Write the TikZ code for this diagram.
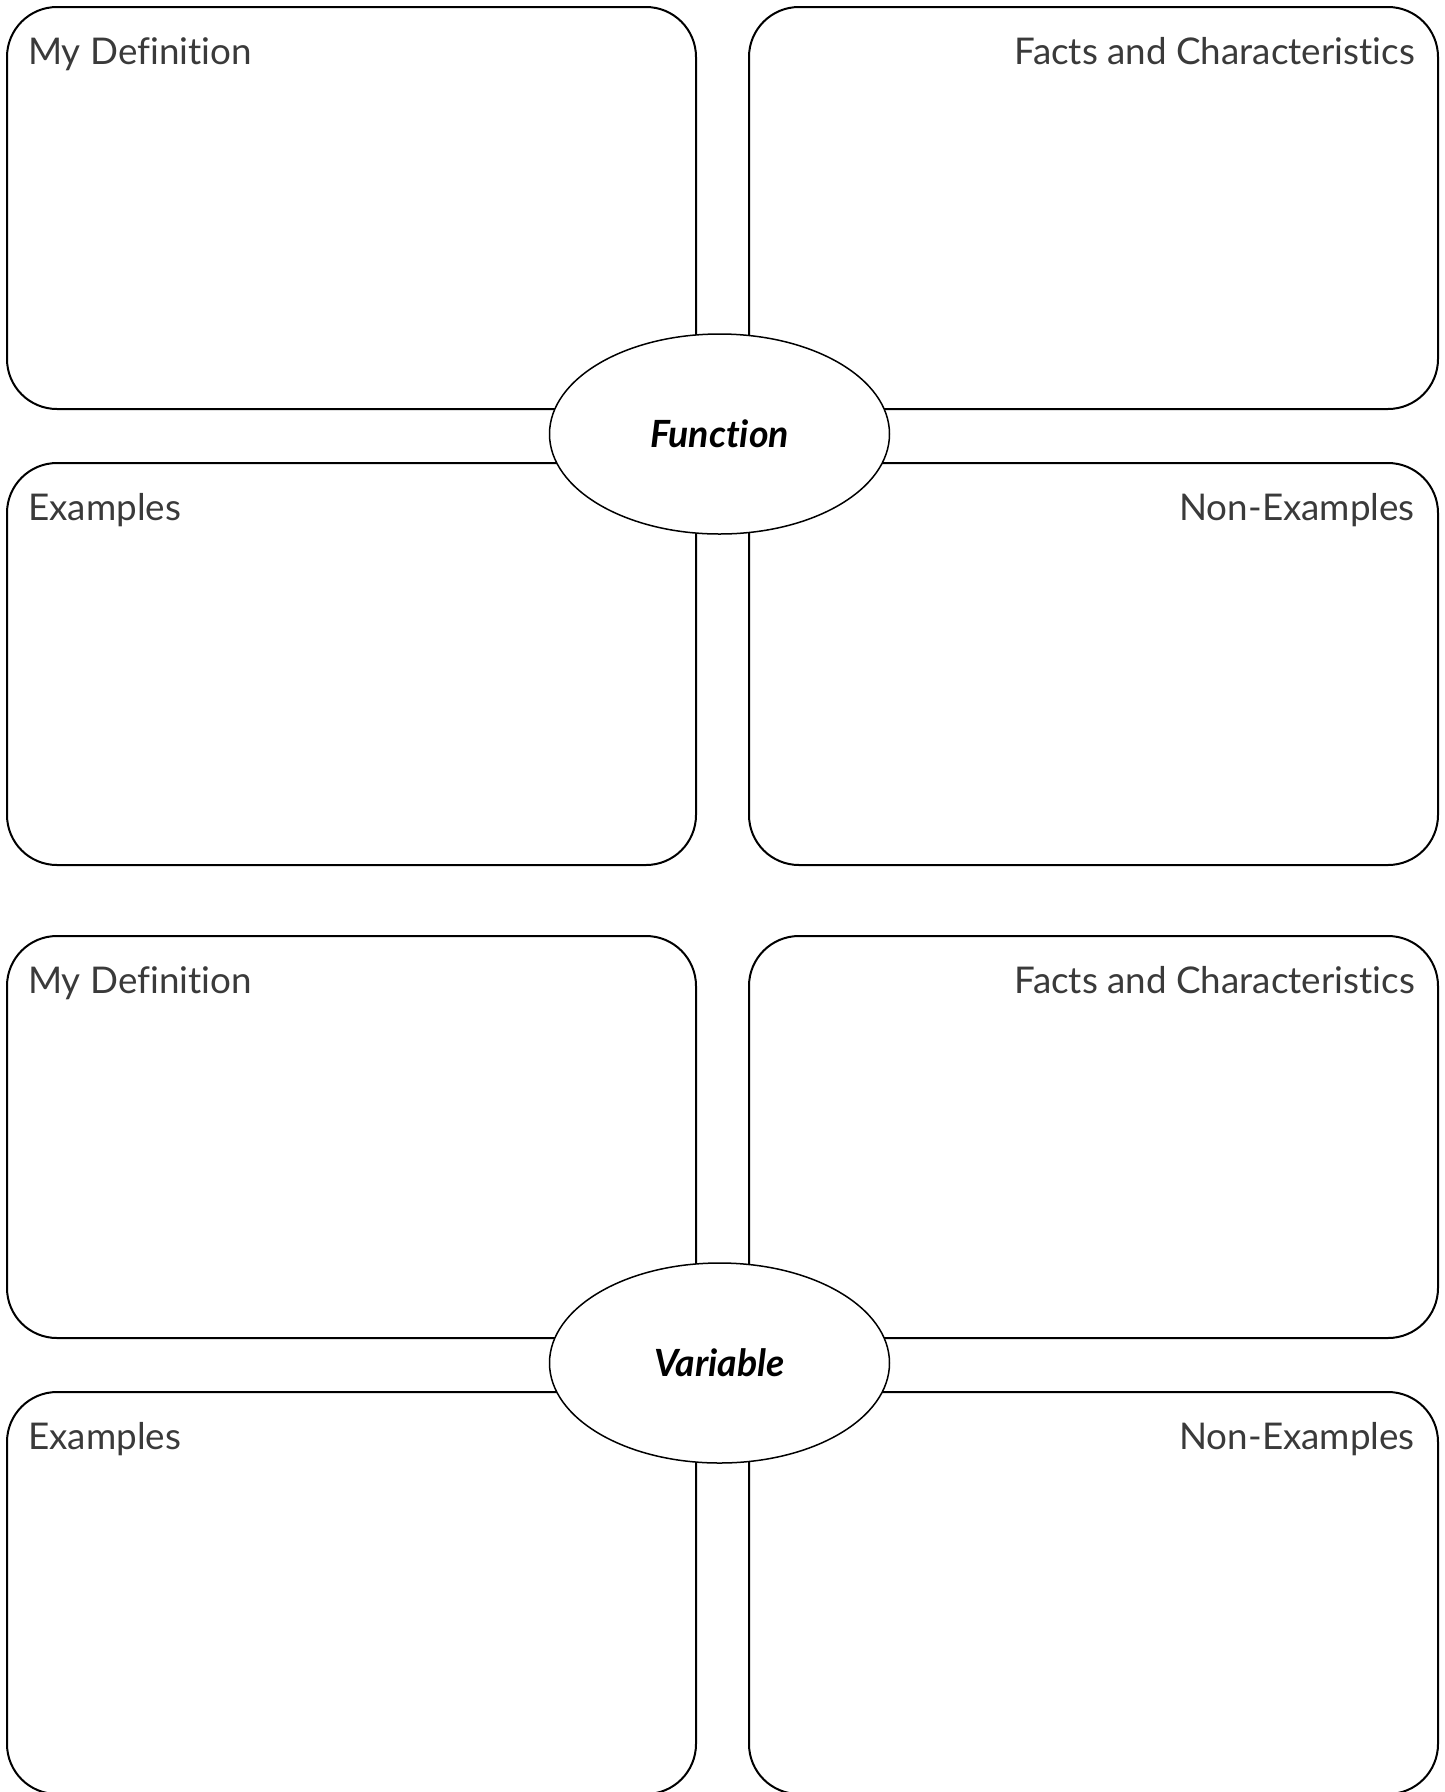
\documentclass[tikz,border=0pt]{standalone}
\usepackage{fontspec}
\setmainfont{Lato}[Ligatures=NoCommon]
\usetikzlibrary{positioning,shapes.geometric}
\definecolor{labelgray}{RGB}{58,58,58}
\tikzset{
  panel/.style={draw, line width=2pt, rounded corners=50pt, minimum width=689pt,
    minimum height=402pt, inner sep=0pt},
  heading/.style={text=labelgray, font=\fontsize{36.8pt}{44pt}\selectfont, inner sep=0pt},
  word/.style={ellipse, draw, fill=white, line width=1.5pt, minimum width=340pt,
    minimum height=200pt, inner sep=0pt, font=\fontsize{37.5pt}{44pt}\selectfont\bfseries\itshape}
}
\begin{document}
\begin{tikzpicture}[x=1pt,y=-1pt]
      \useasboundingbox (0,0) rectangle (1444,1792);
      % first word
      \draw
        (351.5,208) node[panel] (fdef){}
        (1093.5,208) node[panel] (ffact){}
        (351.5,664) node[panel] (fex){}
        (1093.5,664) node[panel] (fnon){};
      \node[word] (function) at (719.5,434) {Function};
      \begin{scope}[heading]
        \node[anchor=base west] (fdeflbl) at ([xshift=22pt,yshift=-58pt]fdef.north west) {My Definition};
        \node[anchor=base east] (ffactlbl) at ([xshift=-24pt,yshift=-58pt]ffact.north east) {Facts and Characteristics};
        \node[anchor=base west] (fexlbl) at ([xshift=22pt,yshift=-58pt]fex.north west) {Examples};
        \node[anchor=base east] (fnonlbl) at ([xshift=-24pt,yshift=-58pt]fnon.north east) {Non-Examples};
      \end{scope}
      % second word
      \draw
        (351.5,1137) node[panel] (vdef){}
        (1093.5,1137) node[panel] (vfact){}
        (351.5,1593) node[panel] (vex){}
        (1093.5,1593) node[panel] (vnon){};
      \node[word] (variable) at (719.5,1363) {Variable};
      \begin{scope}[heading]
        \node[anchor=base west] (vdeflbl) at ([xshift=22pt,yshift=-58pt]vdef.north west) {My Definition};
        \node[anchor=base east] (vfactlbl) at ([xshift=-24pt,yshift=-58pt]vfact.north east) {Facts and Characteristics};
        \node[anchor=base west] (vexlbl) at ([xshift=22pt,yshift=-58pt]vex.north west) {Examples};
        \node[anchor=base east] (vnonlbl) at ([xshift=-24pt,yshift=-58pt]vnon.north east) {Non-Examples};
      \end{scope}
    \end{tikzpicture}
\end{document}
